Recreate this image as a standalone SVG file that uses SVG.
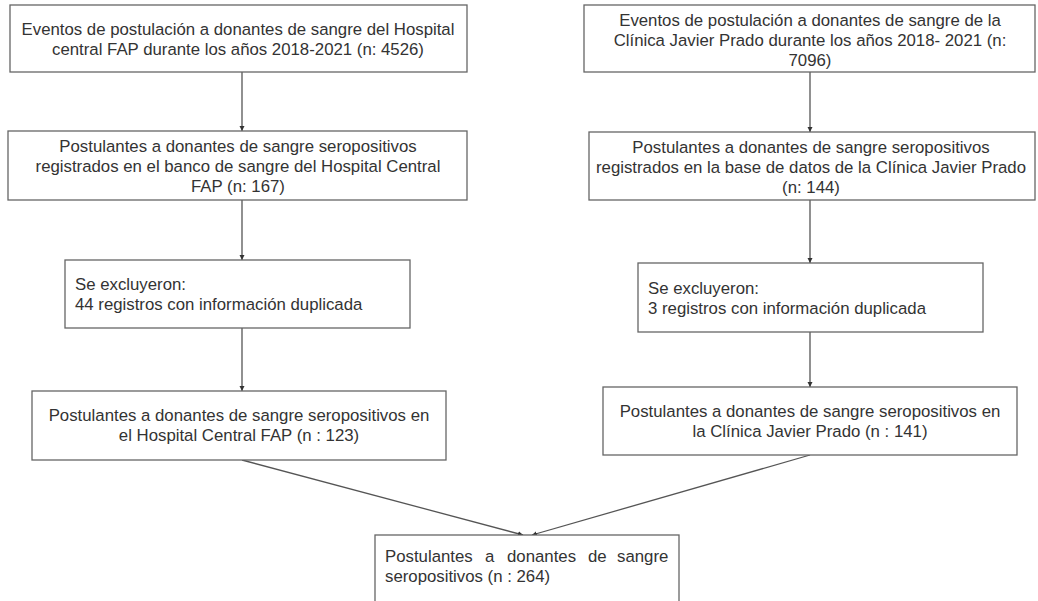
<svg xmlns="http://www.w3.org/2000/svg" width="1038" height="601" viewBox="0 0 1038 601">
<style>
.box{fill:#fff;stroke:#666;stroke-width:1.3}
.t{font-family:"Liberation Sans",Arial,sans-serif;font-size:16.8px;fill:#333}
.c{text-anchor:middle}
.ln{stroke:#555;stroke-width:1.3;fill:none}
</style>
<defs>
<marker id="ah" markerWidth="6" markerHeight="6" refX="5" refY="3" orient="auto" markerUnits="userSpaceOnUse">
<path d="M0,0.5 L5,3 L0,5.5 Z" fill="#333"/>
</marker>
</defs>
<rect width="1038" height="601" fill="#fff"/>
<g id="connectors">
<line class="ln" x1="242" y1="72" x2="242" y2="131" marker-end="url(#ah)"/>
<line class="ln" x1="242" y1="200" x2="242" y2="260" marker-end="url(#ah)"/>
<line class="ln" x1="242" y1="328" x2="242" y2="391" marker-end="url(#ah)"/>
<line class="ln" x1="810" y1="72" x2="810" y2="132" marker-end="url(#ah)"/>
<line class="ln" x1="810" y1="200" x2="810" y2="263" marker-end="url(#ah)"/>
<line class="ln" x1="810" y1="332" x2="810" y2="387" marker-end="url(#ah)"/>
<line class="ln" x1="242" y1="460" x2="523" y2="535" marker-end="url(#ah)"/>
<line class="ln" x1="810" y1="455" x2="532" y2="535" marker-end="url(#ah)"/>
</g>
<g id="n1">
<rect class="box" x="10" y="5" width="457" height="67"/>
<text class="t c" x="238" y="35">Eventos de postulación a donantes de sangre del Hospital</text>
<text class="t c" x="238" y="55">central FAP durante los años 2018-2021 (n: 4526)</text>
</g>
<g id="n2">
<rect class="box" x="584" y="5" width="451" height="67"/>
<text class="t c" x="810" y="26">Eventos de postulación a donantes de sangre de la</text>
<text class="t c" x="810" y="46">Clínica Javier Prado durante los años 2018- 2021 (n:</text>
<text class="t c" x="810" y="66">7096)</text>
</g>
<g id="n3">
<rect class="box" x="8" y="131" width="459" height="69"/>
<text class="t c" x="238" y="152">Postulantes a donantes de sangre seropositivos</text>
<text class="t c" x="238" y="172">registrados en el banco de sangre del Hospital Central</text>
<text class="t c" x="238" y="192">FAP (n: 167)</text>
</g>
<g id="n4">
<rect class="box" x="589" y="132" width="446" height="68"/>
<text class="t c" x="811" y="153">Postulantes a donantes de sangre seropositivos</text>
<text class="t c" x="811" y="173">registrados en la base de datos de la Clínica Javier Prado</text>
<text class="t c" x="811" y="193">(n: 144)</text>
</g>
<g id="n5">
<rect class="box" x="65" y="260" width="345" height="68"/>
<text class="t" x="75" y="290">Se excluyeron:</text>
<text class="t" x="75" y="310">44 registros con información duplicada</text>
</g>
<g id="n6">
<rect class="box" x="638" y="263" width="345" height="69"/>
<text class="t" x="648" y="294">Se excluyeron:</text>
<text class="t" x="648" y="314">3 registros con información duplicada</text>
</g>
<g id="n7">
<rect class="box" x="32" y="391" width="414" height="69"/>
<text class="t c" x="239" y="421">Postulantes a donantes de sangre seropositivos en</text>
<text class="t c" x="239" y="441">el Hospital Central FAP  (n : 123)</text>
</g>
<g id="n8">
<rect class="box" x="603" y="387" width="414" height="68"/>
<text class="t c" x="810" y="417">Postulantes a donantes de sangre seropositivos en</text>
<text class="t c" x="810" y="437">la Clínica Javier Prado  (n : 141)</text>
</g>
<g id="n9">
<rect class="box" x="375" y="535" width="304" height="80"/>
<text class="t" y="562"><tspan x="385">Postulantes</tspan><tspan x="485">a</tspan><tspan x="507">donantes</tspan><tspan x="588">de</tspan><tspan x="617">sangre</tspan></text>
<text class="t" x="385" y="582">seropositivos (n : 264)</text>
</g>
</svg>
